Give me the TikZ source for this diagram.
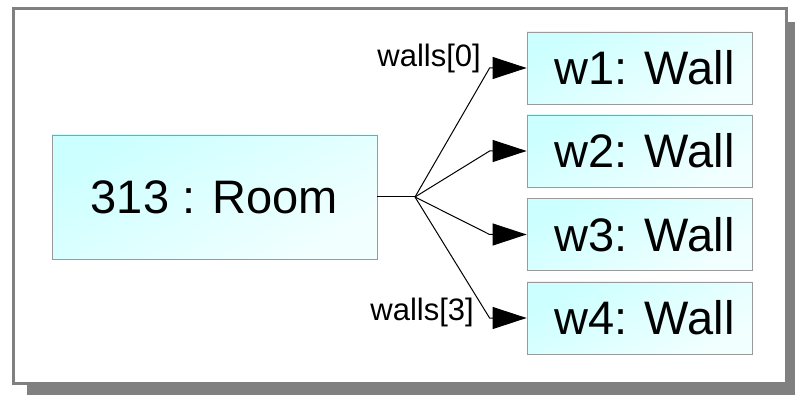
\documentclass[tikz,border=0pt]{standalone}
\usepackage{fontspec}
\setmainfont{Liberation Sans}
\usetikzlibrary{arrows.meta}

\definecolor{framegray}{HTML}{808080}
\definecolor{boxline}{HTML}{9A9A9A}
\definecolor{boxtop}{HTML}{CCFFFF}
\definecolor{boxbot}{HTML}{F2FFFF}

\tikzset{
	objbox/.style={draw=boxline, line width=0.8pt, top color=boxtop, bottom color=boxbot,
		shading angle=30, inner sep=0pt, font=\fontsize{47}{56}\selectfont},
	rolelabel/.style={inner sep=0pt, font=\fontsize{31}{37}\selectfont},
	link/.style={line width=1pt, -{Triangle[length=34pt,width=22pt]}}
}

\begin{document}
\begin{tikzpicture}[x=1pt, y=-1pt]
	\clip (0,0) rectangle (795,395);
	% shadow and frame
	\fill[framegray] (27,22) rectangle (801,397);
	\draw[framegray, line width=3pt, fill=white] (13.5,8.5) rectangle (786,383);

	% objects
	\node[objbox, minimum width=325pt, minimum height=124pt] (room) at (214.5,197) {313 : Room};
	\foreach \i/\y in {1/68, 2/151, 3/234.5, 4/318}
		\node[objbox, minimum width=225pt, minimum height=72pt] (w\i) at (639.5,\y) {\hspace{10pt}w\i: Wall};

	% links
	\coordinate (junc) at (415,197);
	\draw[line width=1pt] (room.east) -- (junc);
	\foreach \i in {1,...,4}
		\draw[link] (junc) -- ([xshift=-37pt]w\i.west) -- (w\i.west);

	\node[rolelabel, anchor=base east] (lab0) at (481,67) {walls[0]};
	\node[rolelabel, anchor=base east] (lab3) at (474,320) {walls[3]};
\end{tikzpicture}
\end{document}
